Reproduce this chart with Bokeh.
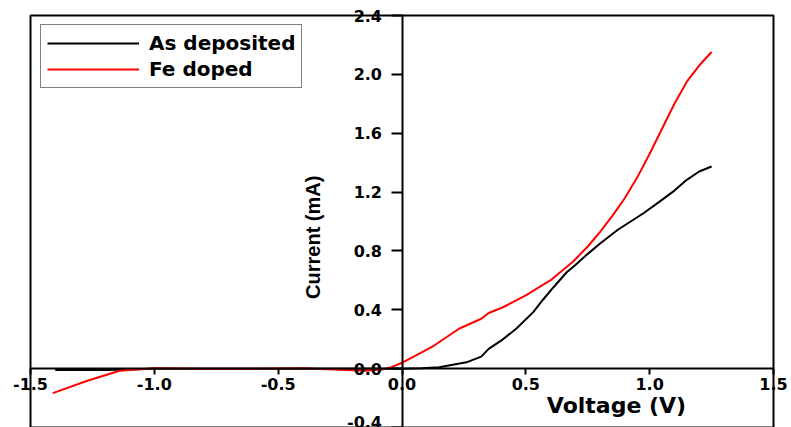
import math
from bokeh.plotting import figure
from bokeh.models import Range1d, FixedTicker, PrintfTickFormatter, Label, BoxAnnotation
from bokeh.embed import file_html
from bokeh.resources import INLINE

# ---- data ----
as_dep_v = [-1.40, -1.30, -1.20, -1.10, -1.00, -0.80, -0.60, -0.40, -0.20, -0.10, 0.00,
            0.08, 0.15, 0.26, 0.32, 0.35, 0.40, 0.46, 0.53, 0.57, 0.61, 0.665, 0.70,
            0.75, 0.80, 0.87, 0.975, 1.04, 1.10, 1.15, 1.20, 1.25]
as_dep_i = [-0.010, -0.010, -0.010, -0.005, 0.000, 0.000, 0.000, 0.000, 0.000, 0.000, 0.000,
            0.002, 0.010, 0.043, 0.082, 0.134, 0.190, 0.270, 0.384, 0.470, 0.550, 0.655, 0.705,
            0.780, 0.851, 0.942, 1.056, 1.135, 1.210, 1.283, 1.340, 1.374]

fe_v = [-1.41, -1.27, -1.14, -1.00, -0.80, -0.60, -0.40, -0.25, -0.15, -0.08, -0.04, 0.00,
        0.13, 0.23, 0.32, 0.35, 0.41, 0.50, 0.60, 0.69, 0.75, 0.80, 0.85, 0.90, 0.95,
        1.00, 1.05, 1.10, 1.15, 1.20, 1.25]
fe_i = [-0.166, -0.082, -0.014, 0.002, 0.000, 0.000, 0.003, -0.008, -0.014, -0.006, 0.012, 0.040,
        0.157, 0.271, 0.339, 0.378, 0.419, 0.498, 0.601, 0.726, 0.830, 0.930, 1.040, 1.160, 1.300,
        1.460, 1.630, 1.800, 1.950, 2.060, 2.152]

x_ticks = [-1.5, -1.0, -0.5, 0.0, 0.5, 1.0, 1.5]
y_ticks = [-0.4, 0.0, 0.4, 0.8, 1.2, 1.6, 2.0, 2.4]

series_names = ["As deposited", "Fe doped"]
x_title = "Voltage (V)"
y_title = "Current (mA)"

x_lo, x_hi = x_ticks[0], x_ticks[-1]
y_lo, y_hi = y_ticks[0], y_ticks[-1]

# canvas layout (pixels): plotting box from 30..773 horizontally, 15..427 vertically
W, H = 791, 427
BOX_L, BOX_R, BOX_T, BOX_B = 30, 773, 15, 427
sx = (BOX_R - BOX_L) / (x_hi - x_lo)
sy = (BOX_B - BOX_T) / (y_hi - y_lo)

p = figure(width=W, height=H,
           x_range=Range1d(x_lo - BOX_L / sx, x_hi + (W - BOX_R) / sx),
           y_range=Range1d(y_lo - (H - BOX_B) / sy, y_hi + BOX_T / sy),
           output_backend="svg", toolbar_location=None,
           min_border=0)

p.grid.visible = False
p.outline_line_color = None
p.background_fill_color = "white"
p.border_fill_color = "white"

p.add_layout(BoxAnnotation(left=x_lo, right=x_hi, bottom=y_lo, top=y_hi,
                           fill_alpha=0, line_color="black", line_alpha=1.0,
                           line_width=2))

p.line(as_dep_v, as_dep_i, line_color="black", line_width=2, legend_label=series_names[0])
p.line(fe_v, fe_i, line_color="#ff0000", line_width=2, legend_label=series_names[1])

TICK_FONT = "DejaVu Sans"

# axes crossing at the origin
xa = p.xaxis[0]
ya = p.yaxis[0]
xa.fixed_location = 0
ya.fixed_location = 0
xa.bounds = (x_lo, x_hi)
ya.bounds = (y_lo, y_hi)
xa.ticker = FixedTicker(ticks=x_ticks)
ya.ticker = FixedTicker(ticks=y_ticks)
for ax in (xa, ya):
    ax.formatter = PrintfTickFormatter(format="%.1f")
    ax.axis_line_color = "black"
    ax.axis_line_width = 2
    ax.major_tick_line_color = "black"
    ax.major_tick_line_width = 2
    ax.minor_tick_line_color = None
    ax.major_label_text_font = TICK_FONT
    ax.major_label_text_font_style = "bold"
    ax.major_label_text_color = "black"
    ax.major_label_text_font_size = "16px"
xa.major_tick_in = 0
xa.major_tick_out = 6
xa.major_label_standoff = 3
ya.major_tick_in = 0
ya.major_tick_out = 11
ya.major_label_standoff = 9

p.add_layout(Label(x=0.866, y=-0.251, text=x_title, text_align="center",
                   text_baseline="middle", text_font="DejaVu Sans",
                   text_font_style="bold", text_font_size="22px", text_color="black"))
p.add_layout(Label(x=-0.361, y=0.893, text=y_title, angle=math.pi / 2,
                   text_align="center", text_baseline="middle",
                   text_font="Liberation Sans", text_font_style="bold",
                   text_font_size="20px", text_color="black"))

lg = p.legend[0]
lg.location = (40, H - 88)
lg.border_line_color = "black"
lg.border_line_width = 1.5
lg.background_fill_alpha = 1
lg.padding = 6
lg.spacing = 2
lg.margin = 0
lg.glyph_width = 92
lg.glyph_height = 22
lg.label_height = 22
lg.label_standoff = 10
lg.label_text_font = "DejaVu Sans"
lg.label_text_font_style = "bold"
lg.label_text_font_size = "20px"
lg.label_text_color = "black"

open("out.html", "w").write(file_html(p, INLINE))
